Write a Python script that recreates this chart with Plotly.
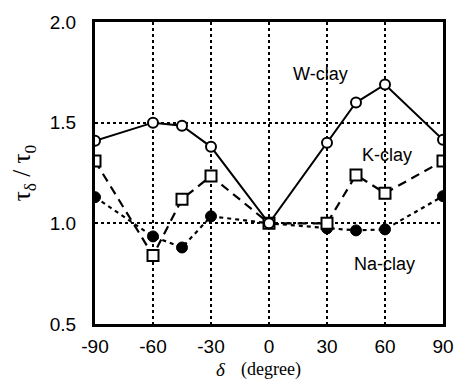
import plotly.graph_objects as go

# inclination angle delta (degree)
delta = [-90, -60, -45, -30, 0, 30, 45, 60, 90]

# normalised shear strength tau_delta / tau_0
w_clay = [1.41, 1.50, 1.485, 1.38, 1.00, 1.40, 1.60, 1.69, 1.415]
k_clay = [1.31, 0.84, 1.12, 1.235, 1.00, 1.00, 1.24, 1.15, 1.31]
na_clay = [1.13, 0.935, 0.88, 1.035, 1.00, 0.975, 0.965, 0.97, 1.135]

x_ticks = [-90, -60, -30, 0, 30, 60, 90]
x_tick_text = ["-90", "-60", "-30", "0", "30", "60", "90"]
y_ticks = [0.5, 1.0, 1.5, 2.0]
y_tick_text = ["0.5", "1.0", "1.5", "2.0"]

fig = go.Figure()

fig.add_trace(go.Scatter(
    x=delta, y=na_clay, mode="lines+markers", name="Na-clay",
    line=dict(color="black", width=2.2, dash="4px,4px"),
    marker=dict(symbol="circle", size=11, color="black",
                line=dict(color="black", width=1)),
))
fig.add_trace(go.Scatter(
    x=delta, y=k_clay, mode="lines+markers", name="K-clay",
    line=dict(color="black", width=2.2, dash="9px,6px"),
    marker=dict(symbol="square", size=11, color="white",
                line=dict(color="black", width=2)),
))
fig.add_trace(go.Scatter(
    x=delta, y=w_clay, mode="lines+markers", name="W-clay",
    line=dict(color="black", width=2),
    marker=dict(symbol="circle", size=10, color="white",
                line=dict(color="black", width=2)),
))

label_font = dict(family="Liberation Sans, Arial, sans-serif", size=18, color="black")
tick_font = dict(family="Liberation Sans, Arial, sans-serif", size=19, color="black")
fig.add_annotation(x=26.5, y=1.74, text="W-clay", showarrow=False, font=label_font)
fig.add_annotation(x=61, y=1.34, text="K-clay", showarrow=False, font=label_font)
fig.add_annotation(x=59.5, y=0.80, text="Na-clay", showarrow=False, font=label_font)

serif = "Liberation Serif, Times New Roman, serif"
fig.add_annotation(
    xref="paper", yref="paper", x=-0.206, y=0.50, xanchor="center", yanchor="middle",
    text="τ<sub>δ</sub> / τ<sub>0</sub>", textangle=-90, showarrow=False,
    font=dict(family=serif, size=25, color="black"),
)
fig.add_annotation(
    xref="paper", yref="paper", x=0.362, y=-0.15, yanchor="middle",
    text="<i>δ</i>", showarrow=False,
    font=dict(family=serif, size=19, color="black"),
)
fig.add_annotation(
    xref="paper", yref="paper", x=0.505, y=-0.15, yanchor="middle",
    text="(degree)", showarrow=False,
    font=dict(family=serif, size=18, color="black"),
)

grid = dict(showgrid=True, gridcolor="black", gridwidth=1.5, griddash="dot")
fig.update_xaxes(
    range=[-90, 90], tickvals=x_ticks, ticktext=x_tick_text,
    ticks="", ticklabelstandoff=3,
    showline=True, linecolor="black", linewidth=3, mirror=True,
    zeroline=False, tickfont=tick_font, **grid,
)
fig.update_yaxes(
    range=[0.5, 2.0], tickvals=y_ticks, ticktext=y_tick_text,
    ticks="", ticklabelstandoff=12,
    showline=True, linecolor="black", linewidth=3, mirror=True,
    zeroline=False, tickfont=tick_font, **grid,
)

fig.update_layout(
    width=466, height=386,
    margin=dict(l=95, r=17, t=17, b=62),
    paper_bgcolor="white", plot_bgcolor="white",
    showlegend=False,
)

fig.write_html("out.html")
